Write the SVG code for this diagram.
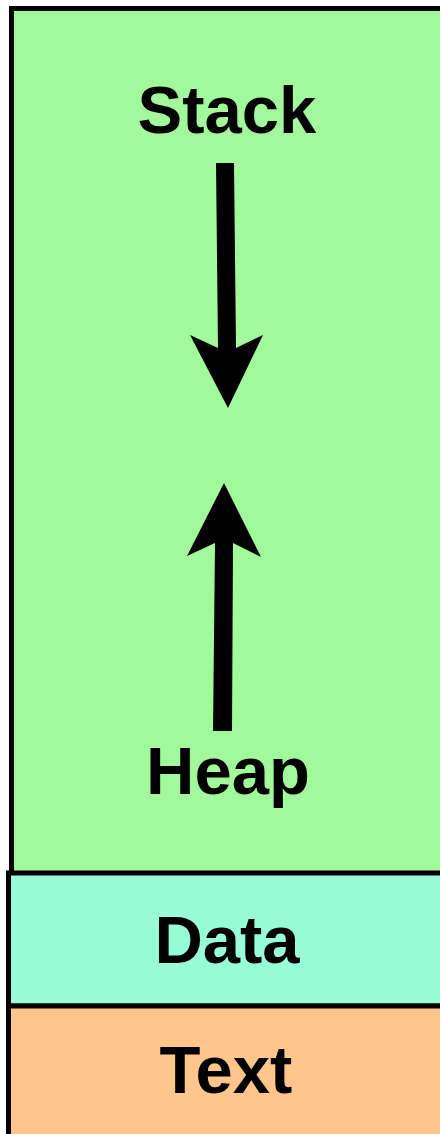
<svg xmlns="http://www.w3.org/2000/svg" width="440" height="1134" viewBox="0 0 440 1134">
<style>
.seg{stroke:#000;stroke-width:5}
.lbl{font-family:"Liberation Sans",Arial,sans-serif;font-weight:bold;font-size:67px;fill:#000;text-anchor:middle}
.arr{fill:#000}
</style>
<rect width="440" height="1134" fill="#fff"/>
<g id="stack-heap">
<rect class="seg" x="11.5" y="8.5" width="440" height="870" fill="#a2f99b"/>
<text class="lbl" x="227" y="133">Stack</text>
<text class="lbl" x="228" y="794">Heap</text>
</g>
<g id="data">
<rect class="seg" x="8.5" y="873" width="440" height="133" fill="#98fcd8"/>
<text class="lbl" x="227" y="963">Data</text>
</g>
<g id="text">
<rect class="seg" x="8.5" y="1006" width="440" height="140" fill="#ffc68b"/>
<text class="lbl" x="226" y="1093">Text</text>
</g>
<g id="connectors">
<path class="arr" d="M216,163 L234,163 L236,348 L263,335 L228,408 L190,335 L218,348 Z"/>
<path class="arr" d="M213,731 L232,731 L233,543 L261,557 L224,483 L187,556 L215,543 Z"/>
</g>
</svg>
